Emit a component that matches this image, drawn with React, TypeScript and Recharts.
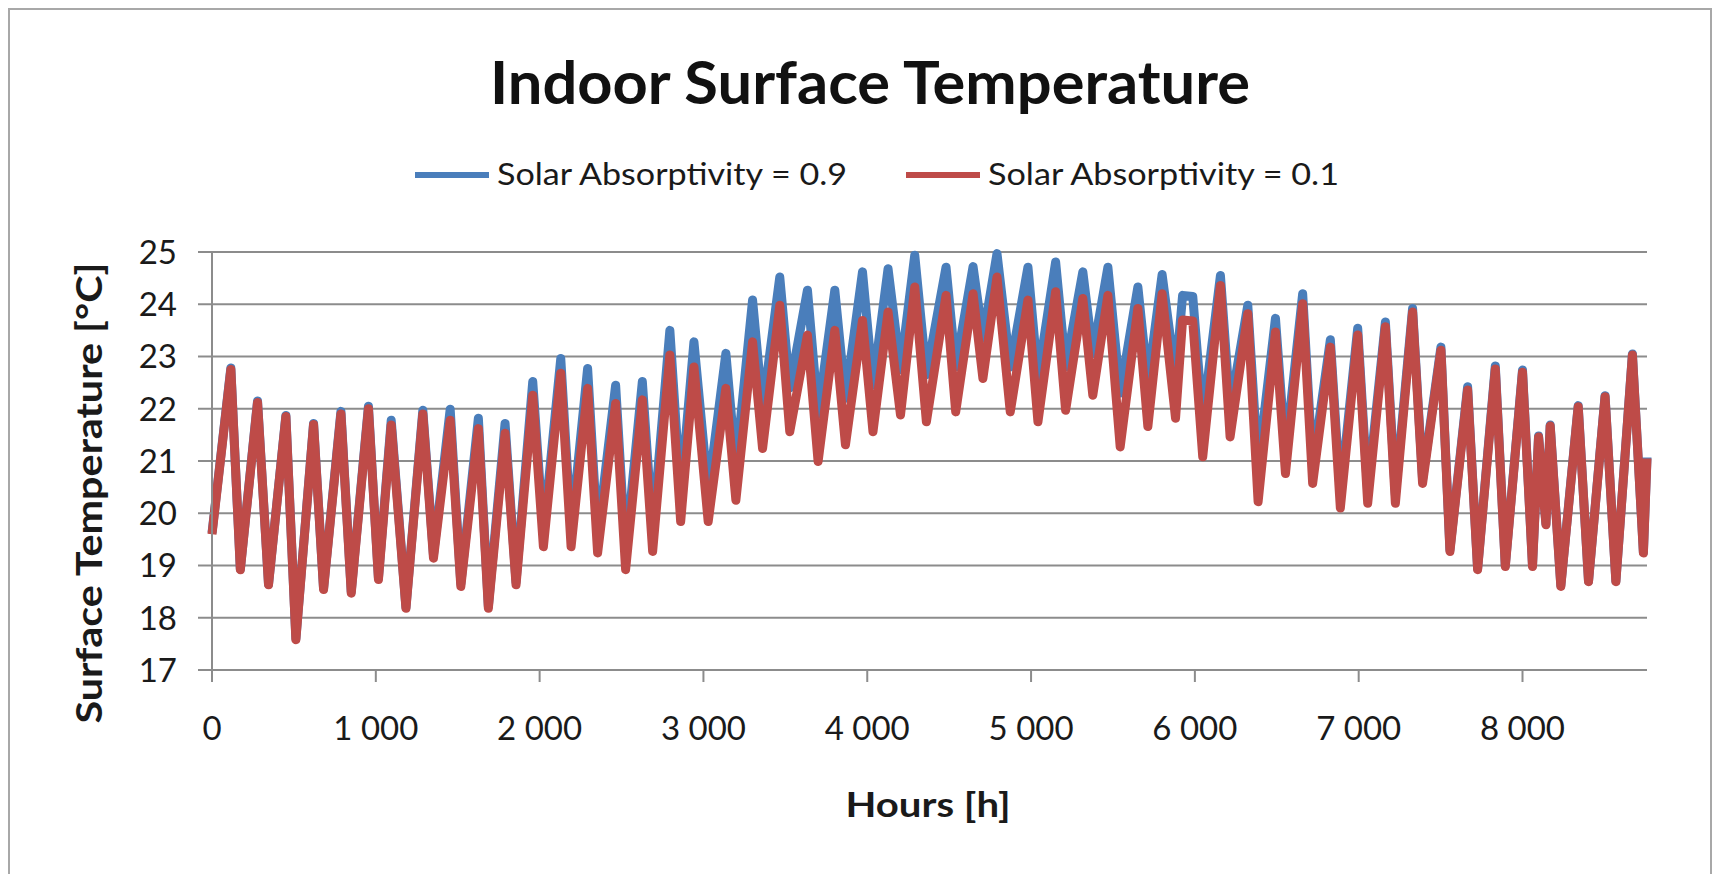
import React from "react"
import { LineChart, Line, XAxis, YAxis, CartesianGrid, Legend } from "recharts"

// weekly peaks and troughs of the hourly simulation (h)
const hours = [
  0, 115, 173, 278, 345, 451, 512, 620, 681, 787, 850, 955, 1016, 1094, 1184, 1287, 1352, 1454, 1519, 1626,
  1687, 1789, 1856, 1958, 2023, 2129, 2192, 2293, 2354, 2464, 2525, 2627, 2690, 2795, 2861, 2942, 3029, 3137,
  3198, 3300, 3361, 3466, 3527, 3635, 3700, 3802, 3867, 3971, 4035, 4127, 4203, 4290, 4361, 4481, 4540, 4646,
  4706, 4792, 4873, 4981, 5042, 5150, 5211, 5316, 5377, 5469, 5544, 5652, 5713, 5800, 5882, 5925, 5987, 6048,
  6156, 6215, 6323, 6386, 6492, 6553, 6658, 6719, 6827, 6888, 6994, 7055, 7163, 7224, 7329, 7390, 7502, 7557,
  7665, 7726, 7834, 7895, 8000, 8061, 8098, 8143, 8169, 8234, 8340, 8403, 8504, 8570, 8671, 8738, 8760,
]

// solar absorptivity 0.9 (°C)
const absorptivity09 = [
  19.62, 22.78, 18.93, 22.15, 18.64, 21.87, 17.6, 21.72, 18.56, 21.95, 18.5, 22.05, 18.76, 21.78, 18.2, 21.97,
  19.2, 21.99, 18.65, 21.82, 18.22, 21.72, 18.68, 22.52, 19.6, 22.96, 19.65, 22.77, 19.55, 22.45, 19.25, 22.52,
  19.65, 23.5, 20.35, 23.28, 20.4, 23.06, 20.9, 24.08, 22.0, 24.52, 22.4, 24.27, 21.9, 24.27, 22.2, 24.62, 22.45,
  24.68, 22.75, 24.94, 22.65, 24.71, 22.8, 24.72, 23.35, 24.97, 22.8, 24.71, 22.6, 24.81, 22.8, 24.62, 23.05,
  24.71, 22.3, 24.33, 22.5, 24.57, 22.6, 24.17, 24.15, 21.8, 24.55, 22.0, 23.98, 20.9, 23.73, 21.15, 24.2, 20.9,
  23.32, 20.35, 23.54, 20.4, 23.66, 20.35, 23.92, 20.65, 23.18, 19.3, 22.42, 18.94, 22.82, 19.0, 22.74, 19.0,
  21.48, 19.8, 21.69, 18.62, 22.06, 18.7, 22.25, 18.7, 23.05, 19.25, 21.07,
]

// solar absorptivity 0.1 (°C)
const absorptivity01 = [
  19.6, 22.75, 18.92, 22.12, 18.63, 21.85, 17.58, 21.7, 18.54, 21.9, 18.47, 22.0, 18.73, 21.69, 18.18, 21.9,
  19.14, 21.78, 18.6, 21.62, 18.18, 21.53, 18.63, 22.26, 19.36, 22.68, 19.36, 22.39, 19.24, 22.1, 18.92, 22.17,
  19.27, 23.03, 19.84, 22.8, 19.84, 22.39, 20.25, 23.28, 21.24, 23.98, 21.56, 23.41, 20.99, 23.5, 21.31, 23.69,
  21.56, 23.85, 21.88, 24.33, 21.75, 24.17, 21.94, 24.2, 22.58, 24.52, 21.94, 24.08, 21.75, 24.24, 21.97, 24.11,
  22.26, 24.17, 21.27, 23.92, 21.66, 24.2, 21.82, 23.7, 23.68, 21.08, 24.36, 21.46, 23.82, 20.22, 23.47, 20.76,
  24.01, 20.57, 23.18, 20.1, 23.41, 20.19, 23.57, 20.19, 23.85, 20.57, 23.12, 19.27, 22.36, 18.92, 22.76, 18.98,
  22.7, 18.98, 21.46, 19.78, 21.67, 18.6, 22.04, 18.69, 22.23, 18.69, 23.03, 19.24, 21.05,
]

const hourTicks = [0, 1000, 2000, 3000, 4000, 5000, 6000, 7000, 8000]
const tempTicks = [17, 18, 19, 20, 21, 22, 23, 24, 25]

const seriesNames = ["Solar Absorptivity = 0.9", "Solar Absorptivity = 0.1"]

const data = hours.map((h, i) => ({
  hour: h,
  high: absorptivity09[i],
  low: absorptivity01[i],
}))

const W = 1719
const H = 874
const GRID = "#8c8c8c"
const BLUE = "#4a7ebb"
const RED = "#be4b48"
const SANS = "Lato, 'Open Sans', sans-serif"

const fmtHour = (n: number) => String(n).replace(/\B(?=(\d{3})+(?!\d))/g, " ")

const HourTick = (props: any) => {
  const { x, y, payload } = props
  return (
    <text x={x} y={y + 56} textAnchor="middle" fontFamily={SANS} fontSize={33} fill="#1a1a1a">
      {fmtHour(payload.value)}
    </text>
  )
}

const TempTick = (props: any) => {
  const { x, y, payload } = props
  return (
    <text x={x - 19} y={y} dy="0.36em" textAnchor="end" fontFamily={SANS} fontSize={33} fill="#1a1a1a">
      {payload.value}
    </text>
  )
}

const legendX = [415, 906]
const legendText = [350, 351]

const renderLegend = (props: any) => {
  const items = [...props.payload].sort(
    (a: any, b: any) => seriesNames.indexOf(a.value) - seriesNames.indexOf(b.value)
  )
  return (
    <svg width={W} height={44} style={{ display: "block" }}>
      {items.map((entry: any, i: number) => (
        <g key={entry.value}>
          <line x1={legendX[i]} x2={legendX[i] + 74} y1={22} y2={22} stroke={entry.color} strokeWidth={6} />
          <text
            x={legendX[i] + 82}
            y={32}
            fontFamily={SANS}
            fontSize={30}
            fill="#1a1a1a"
            textLength={legendText[i]}
            lengthAdjust="spacingAndGlyphs"
          >
            {entry.value}
          </text>
        </g>
      ))}
    </svg>
  )
}

export default function App() {
  return (
    <div style={{ position: "fixed", left: 0, top: 0, width: W, height: H, overflow: "hidden", background: "#fff" }}>
      <div
        style={{
          position: "absolute",
          left: 8,
          top: 8,
          width: 1700,
          height: 900,
          border: "2px solid #a8a8a8",
        }}
      />
      <LineChart
        width={W}
        height={H}
        data={data}
        margin={{ top: 252, right: 72, bottom: 144, left: 0 }}
        style={{ position: "absolute", left: 0, top: 0 }}
      >
        <text
          x={870}
          y={104}
          textAnchor="middle"
          fontFamily={SANS}
          fontWeight={700}
          fontSize={60}
          fill="#111"
          textLength={760}
          lengthAdjust="spacingAndGlyphs"
        >
          Indoor Surface Temperature
        </text>
        <CartesianGrid vertical={false} stroke={GRID} strokeWidth={2} />
        <XAxis
          type="number"
          dataKey="hour"
          domain={[0, 8760]}
          ticks={hourTicks}
          height={60}
          stroke={GRID}
          strokeWidth={2}
          tickSize={12}
          tick={<HourTick />}
          label={{
            content: () => (
              <text
                x={928}
                y={817}
                textAnchor="middle"
                fontFamily={SANS}
                fontWeight={700}
                fontSize={34}
                fill="#1a1a1a"
                textLength={165}
                lengthAdjust="spacingAndGlyphs"
              >
                Hours [h]
              </text>
            ),
          }}
        />
        <YAxis
          type="number"
          domain={[17, 25]}
          ticks={tempTicks}
          width={212}
          stroke={GRID}
          strokeWidth={2}
          tickSize={14}
          tick={<TempTick />}
          label={{
            content: () => (
              <text
                x={102}
                y={493}
                textAnchor="middle"
                transform="rotate(-90 102 493)"
                fontFamily={SANS}
                fontWeight={700}
                fontSize={36}
                fill="#1a1a1a"
                textLength={461}
                lengthAdjust="spacingAndGlyphs"
              >
                Surface Temperature [°C]
              </text>
            ),
          }}
        />
        <Legend
          layout="horizontal"
          verticalAlign="middle"
          align="center"
          wrapperStyle={{ top: 153, left: 0, width: W }}
          content={renderLegend}
        />
        <Line
          type="linear"
          dataKey="high"
          name={seriesNames[0]}
          stroke={BLUE}
          strokeWidth={9}
          strokeLinejoin="round"
          dot={false}
          isAnimationActive={false}
        />
        <Line
          type="linear"
          dataKey="low"
          name={seriesNames[1]}
          stroke={RED}
          strokeWidth={9}
          strokeLinejoin="round"
          dot={false}
          isAnimationActive={false}
        />
      </LineChart>
    </div>
  )
}
